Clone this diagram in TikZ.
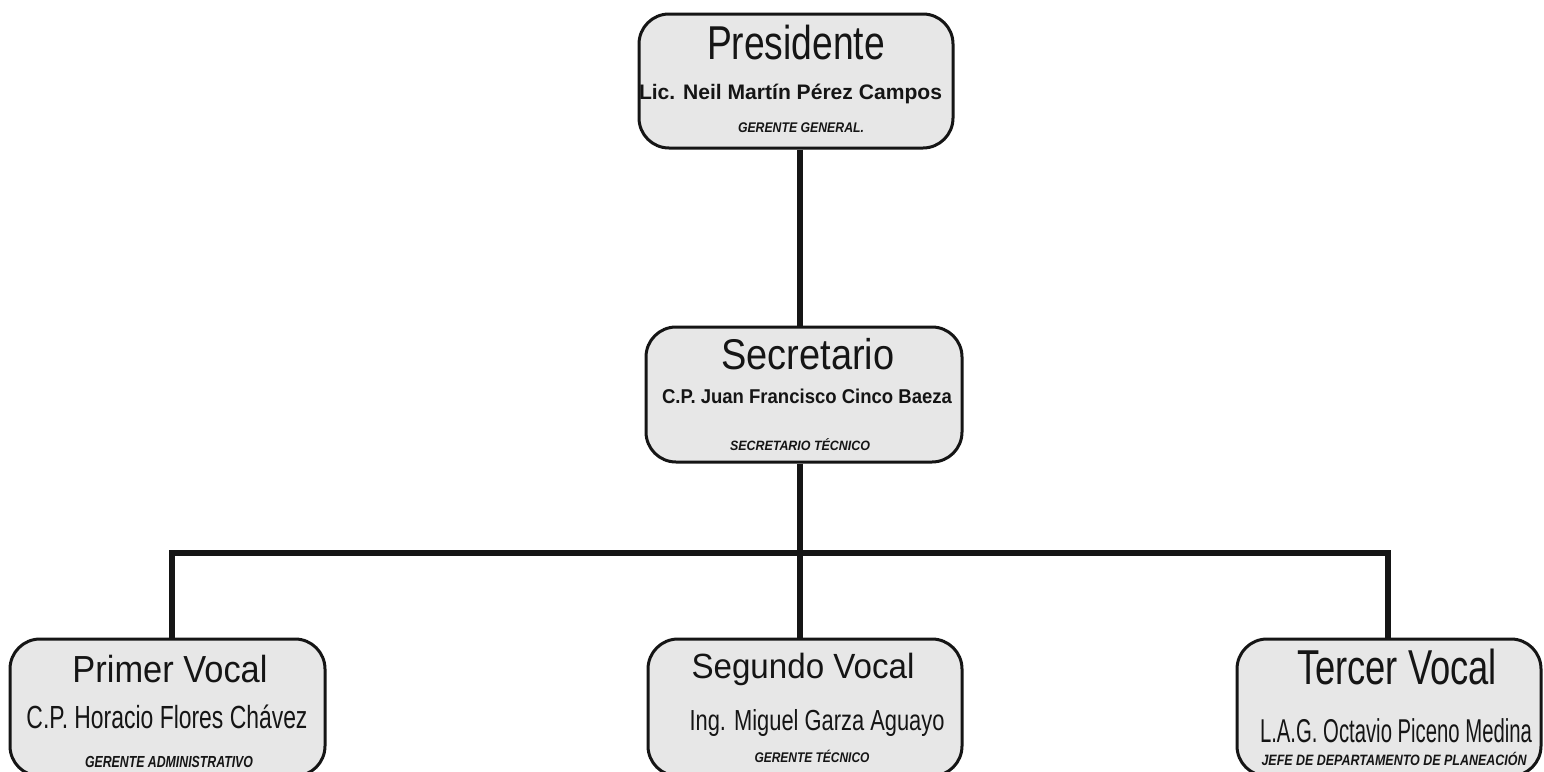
\documentclass[tikz,border=0pt]{standalone}
\usepackage{fontspec}
\setmainfont{Liberation Sans}
\usepackage{graphicx}
\newcommand\fitt[3]{\resizebox{#1pt}{\height}{\fontsize{#2pt}{#2pt}\selectfont #3}}
\definecolor{boxfill}{HTML}{E7E7E7}
\definecolor{ink}{HTML}{151515}
\tikzset{
  orgbox/.style={draw=ink, line width=3pt, fill=boxfill, rounded corners=30pt, inner sep=0pt},
  conn/.style={draw=ink, line width=5.5pt},
  lbl/.style={anchor=base, inner sep=0pt, text=ink},
}
\begin{document}
\begin{tikzpicture}[x=1pt, y=-1pt]
\clip (0,0) rectangle (1544,771);
\fill[white] (0,0) rectangle (1544,771);
% boxes
\node[orgbox, minimum width=314pt, minimum height=134pt] (pres) at (796,81) {};
\node[orgbox, minimum width=316pt, minimum height=135pt] (sec) at (804,394.5) {};
\node[orgbox, minimum width=315pt, minimum height=137pt] (prim) at (167.5,707.5) {};
\node[orgbox, minimum width=314pt, minimum height=137pt] (seg) at (805,707.5) {};
\node[orgbox, minimum width=304pt, minimum height=137pt] (terc) at (1389,707.5) {};
% connectors
\coordinate (bus) at (800,553);
\draw[conn] ([xshift=4pt]pres.south) -- ([xshift=-4pt]sec.north);
\draw[conn] ([xshift=-4pt]sec.south) -- ([xshift=-5pt]seg.north);
\draw[conn] ([xshift=4.5pt]prim.north) |- (bus) -| ([xshift=-1pt]terc.north);
% texts
\node[lbl] (t1) at (796,59) {\fitt{178}{47.5}{Presidente}};
\node[lbl] (t2) at (790.5,99) {\fitt{303}{21}{\bfseries Lic. Neil Martín Pérez Campos}};
\node[lbl] (t3) at (801,132) {\fitt{126}{14}{\bfseries\itshape GERENTE GENERAL.}};
\node[lbl] (t4) at (808,369) {\fitt{173}{43}{Secretario}};
\node[lbl] (t5) at (807,403) {\fitt{290}{20}{\bfseries C.P. Juan Francisco Cinco Baeza}};
\node[lbl] (t6) at (800,450) {\fitt{140}{13.5}{\bfseries\itshape SECRETARIO TÉCNICO}};
\node[lbl] (t7) at (170,682) {\fitt{195}{37.7}{Primer Vocal}};
\node[lbl] (t8) at (167,728) {\fitt{281}{32}{C.P. Horacio Flores Chávez}};
\node[lbl] (t9) at (169,767) {\fitt{168}{16}{\bfseries\itshape GERENTE ADMINISTRATIVO}};
\node[lbl] (t10) at (803,678) {\fitt{223}{35}{Segundo Vocal}};
\node[lbl] (t11) at (817,730) {\fitt{255}{29}{Ing. Miguel Garza Aguayo}};
\node[lbl] (t12) at (812,762) {\fitt{115}{14}{\bfseries\itshape GERENTE TÉCNICO}};
\node[lbl] (t13) at (1397,684) {\fitt{200}{49}{Tercer Vocal}};
\node[lbl] (t14) at (1396,742) {\fitt{272}{33}{L.A.G. Octavio Piceno Medina}};
\node[lbl] (t15) at (1394,765) {\fitt{265}{15}{\bfseries\itshape JEFE DE DEPARTAMENTO DE PLANEACIÓN}};
\end{tikzpicture}
\end{document}
